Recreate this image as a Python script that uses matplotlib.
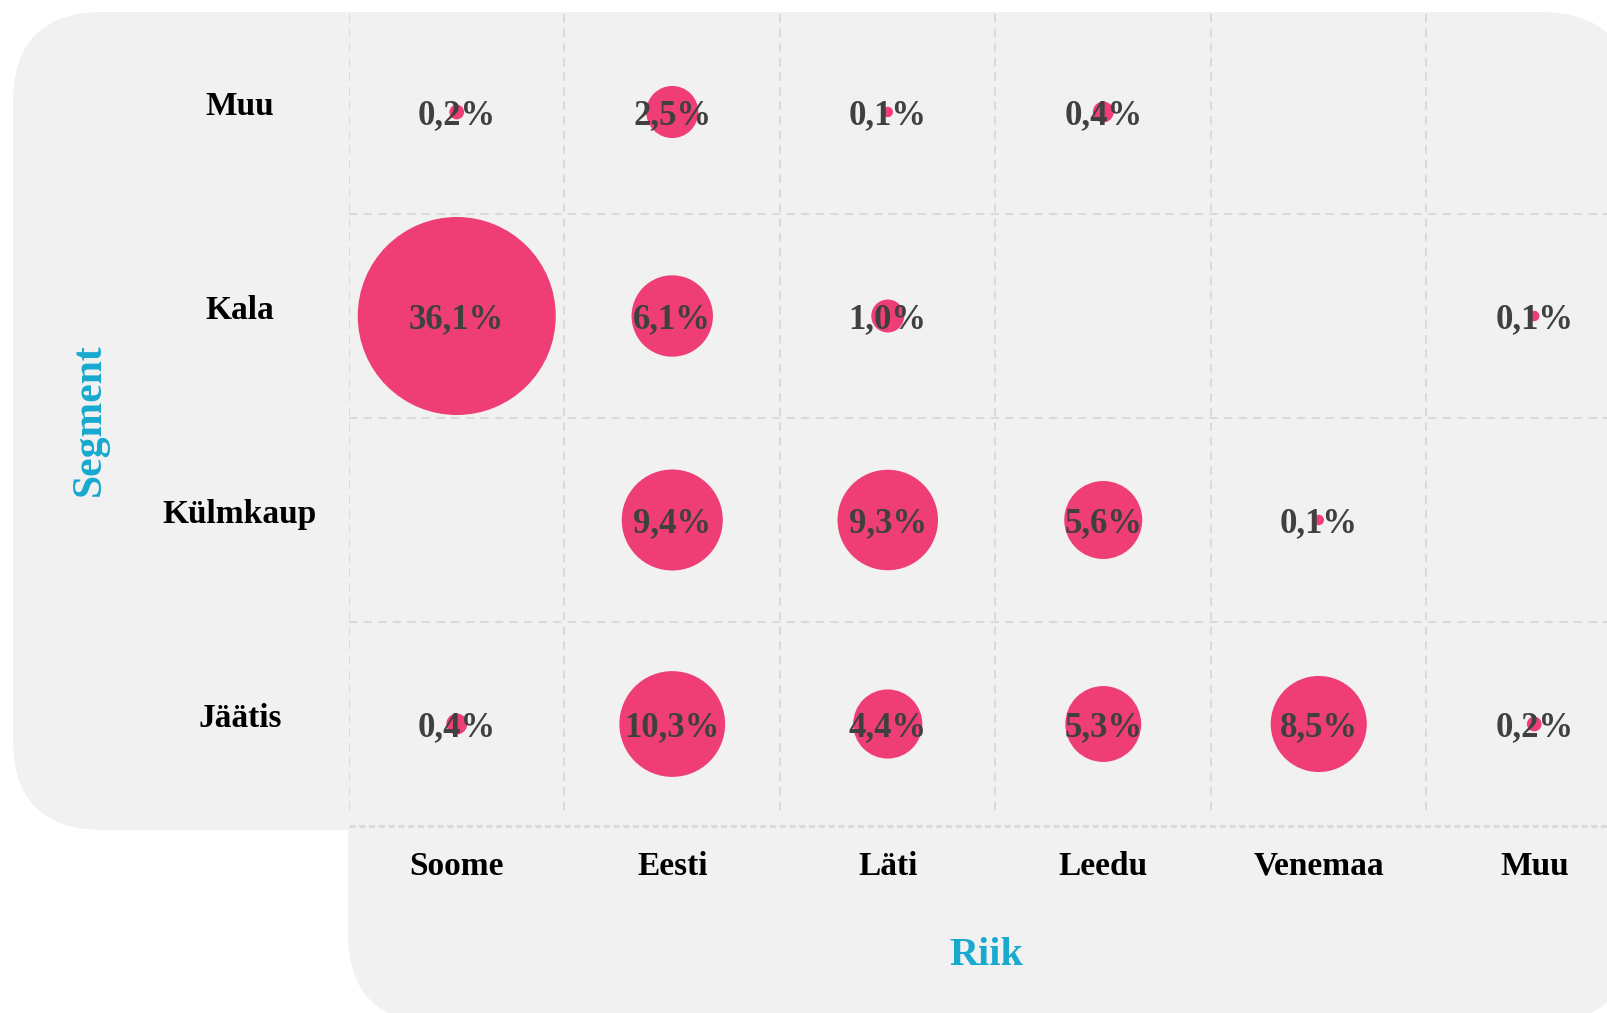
import matplotlib
matplotlib.use("Agg")
import matplotlib.pyplot as plt
import matplotlib.transforms as mtransforms
from matplotlib.patches import FancyBboxPatch
import numpy as np

# ---- data ----
countries = ["Soome", "Eesti", "Läti", "Leedu", "Venemaa", "Muu"]
segments = ["Jäätis", "Külmkaup", "Kala", "Muu"]  # bottom -> top
# share (%) per segment, in the order of `countries`; None = no value
jaatis = [0.4, 10.3, 4.4, 5.3, 8.5, 0.2]
kulmkaup = [None, 9.4, 9.3, 5.6, 0.1, None]
kala = [36.1, 6.1, 1.0, None, None, 0.1]
muu = [0.2, 2.5, 0.1, 0.4, None, None]
series = [jaatis, kulmkaup, kala, muu]

BUBBLE = "#EF3E75"
BG = "#F1F1F1"
GRID = "#DADADA"
CYAN = "#17A9CE"
FONT = ["Liberation Serif", "DejaVu Serif"]
plt.rcParams["font.family"] = FONT

W, H = 1608, 1013
fig = plt.figure(figsize=(W / 100, H / 100), dpi=100)
fig.patch.set_facecolor("white")

# background panels (pixel coordinates, origin bottom-left)
ident = mtransforms.IdentityTransform()
top_panel = FancyBboxPatch((13, H - 830), 1631 - 13, 830 - 12,
                           boxstyle="round,pad=0,rounding_size=90",
                           transform=ident, facecolor=BG, edgecolor="none", zorder=-10)
bot_panel = FancyBboxPatch((348, -10), 1631 - 348, 520,
                           boxstyle="round,pad=0,rounding_size=90",
                           transform=ident, facecolor=BG, edgecolor="none", zorder=-10)
fig.add_artist(top_panel)
fig.add_artist(bot_panel)

ax = fig.add_axes([349 / W, 187 / H, 1293 / W, 816 / H])
ax.set_facecolor("none")
for s in ax.spines.values():
    s.set_visible(False)

nx, ny = len(countries), len(segments)
ax.set_xlim(-0.5, nx - 0.5)
ax.set_ylim(-0.5, ny - 0.5)

# grid
xb = np.arange(nx) - 0.5
yb = np.arange(1, ny) - 0.5
ax.vlines(xb, -0.42, ny - 0.5, colors=GRID, linewidth=1.5,
          linestyles=(0, (4, 3)), zorder=1)
ax.hlines(yb, -0.5, nx, colors=GRID, linewidth=1.5,
          linestyles=(0, (4, 3)), zorder=1)
ax.hlines([-0.5], -0.5, nx, colors=GRID, linewidth=2.2,
          linestyles=(0, (2, 1.2)), zorder=1, clip_on=False)

# bubbles
scale = 563.0
for yi, row in enumerate(series):
    for xi, v in enumerate(row):
        if v is None:
            continue
        ax.scatter(xi, yi, s=v * scale, color=BUBBLE, edgecolors="none", zorder=3)
        ax.text(xi, yi, f"{v:.1f}%".replace(".", ","), ha="center", va="center_baseline",
                fontsize=25, fontweight="bold", color="#404040", zorder=4,
                family=FONT)

# ticks
ax.set_xticks(range(nx))
ax.set_xticklabels(countries, fontsize=24, fontweight="bold", color="black", va="center")
ax.set_yticks(range(ny))
ax.set_yticklabels(segments, fontsize=24, fontweight="bold", color="black", ha="center")
ax.tick_params(axis="x", length=0, pad=29)
ax.tick_params(axis="y", length=0, pad=78.5)
off = mtransforms.ScaledTranslation(0, 0.09, fig.dpi_scale_trans)
for lbl in ax.get_yticklabels():
    lbl.set_transform(lbl.get_transform() + off)

ax.set_xlabel("Riik", fontsize=29, fontweight="bold", color=CYAN)
ax.set_ylabel("Segment", fontsize=30, fontweight="bold", color=CYAN)
ax.xaxis.set_label_coords((986 - 349) / 1293, (1013 - 955 - 187) / 816)
ax.yaxis.set_label_coords((90 - 349) / 1293, (1013 - 420 - 187) / 816)
ax.xaxis.label.set_va("center")
ax.yaxis.label.set_va("center")

fig.savefig("out.png", dpi=100)
